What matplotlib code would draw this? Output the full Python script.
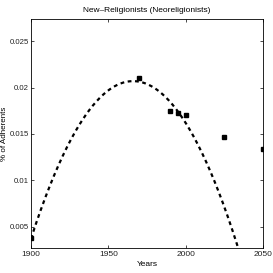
import numpy as np
import matplotlib.pyplot as plt

plt.rcParams['font.family'] = ['Liberation Sans', 'DejaVu Sans']

# observed shares
years = [1900, 1970, 1990, 1995, 2000, 2025, 2050]
share = [0.00375, 0.0210, 0.0175, 0.0173, 0.0170, 0.0147, 0.0134]

# quadratic trend (vertex form: year, peak, curvature)
peak_year = 1966
peak_share = 0.0207
curvature = -3.9e-6
fit_start, fit_end = 1900, 2036

xticks = [1900, 1950, 2000, 2050]
yticks = [0.005, 0.01, 0.015, 0.02, 0.025]
ytick_labels = ['0.005', '0.01', '0.015', '0.02', '0.025']

fig = plt.figure(figsize=(2.73, 2.73), dpi=100)
ax = fig.add_axes([31/273, 25/273, 232/273, 229/273])

xx = np.linspace(fit_start, fit_end, 300)
yy = np.polyval([curvature, 0, peak_share], xx - peak_year)
ax.plot(xx, yy, color='black', lw=1.6, linestyle=(0, (1.7, 1.6)))
ax.plot(years, share, 's', color='black', markersize=2.8)

ax.set_xlim(1900, 2050)
ax.set_ylim(0.0027, 0.0274)
ax.set_xticks(xticks)
ax.set_yticks(yticks)
ax.set_yticklabels(ytick_labels)
ax.tick_params(direction='in', top=True, right=True, labelsize=6, length=2.5,
               width=0.5, pad=2, labelcolor='#222222')
ax.tick_params(axis='y', labelsize=5.6, pad=1.5)
for s in ax.spines.values():
    s.set_linewidth(0.6)

ax.set_title('New\u2013Religionists (Neoreligionists)', fontsize=6, pad=5)
ax.set_xlabel('Years', fontsize=6, labelpad=2)
ax.set_ylabel('% of Adherents', fontsize=5.8)
ax.yaxis.set_label_coords(-23/232, 0.5)

fig.savefig('out.png', dpi=100)
